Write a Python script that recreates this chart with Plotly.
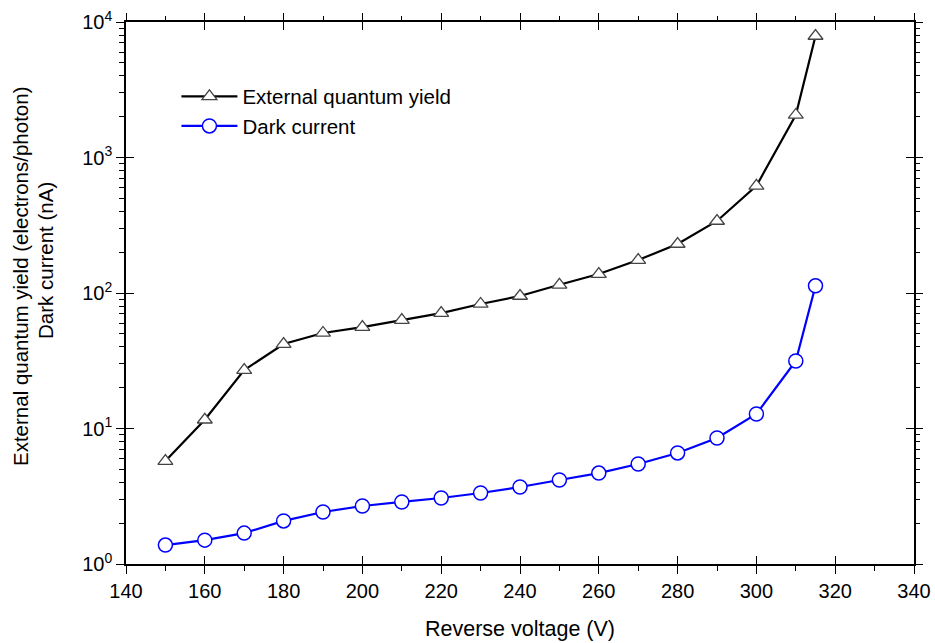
import plotly.graph_objects as go

voltage = [150, 160, 170, 180, 190, 200, 210, 220, 230, 240, 250, 260, 270, 280, 290, 300, 310, 315]
quantum_yield = [5.75, 11.6, 27, 42, 50.7, 56, 63, 71, 83, 95, 115, 138, 175, 230, 340, 617, 2060, 7880]
dark_current = [1.38, 1.50, 1.69, 2.08, 2.42, 2.68, 2.87, 3.07, 3.34, 3.70, 4.17, 4.69, 5.47, 6.60, 8.51, 12.8, 31.5, 113]

x_ticks = [140, 160, 180, 200, 220, 240, 260, 280, 300, 320, 340]
y_ticks = [1, 10, 100, 1000, 10000]
y_ticktext = ["10<sup>0</sup>", "10<sup>1</sup>", "10<sup>2</sup>", "10<sup>3</sup>", "10<sup>4</sup>"]
y_minor = [m * d for d in [1, 10, 100, 1000] for m in range(2, 10)]

FONT = "Liberation Sans, Arial, sans-serif"
xr = [140, 340]
yr = [0, 4]

fig = go.Figure()
fig.add_trace(go.Scatter(
    x=voltage, y=quantum_yield, mode="lines+markers", name="External quantum yield",
    line=dict(color="black", width=2.2),
    marker=dict(symbol="triangle-up", size=13, color="white", line=dict(color="#444444", width=1.3)),
))
fig.add_trace(go.Scatter(
    x=voltage, y=dark_current, mode="lines+markers", name="Dark current",
    line=dict(color="#0000ff", width=2.2),
    marker=dict(symbol="circle", size=14, color="white", line=dict(color="#0000ff", width=1.5)),
))
# dummy traces so the overlay axes get drawn
fig.add_trace(go.Scatter(x=[None], y=[None], xaxis="x2", yaxis="y2", showlegend=False, hoverinfo="skip"))
fig.add_trace(go.Scatter(x=[None], y=[None], xaxis="x3", yaxis="y3", showlegend=False, hoverinfo="skip"))

common_x = dict(range=xr, tickvals=x_ticks, ticklen=8, tickwidth=1.3, tickcolor="black",
                showgrid=False, zeroline=False, automargin=False)
common_y = dict(type="log", range=yr, tickvals=y_ticks, ticklen=8, tickwidth=1.3, tickcolor="black",
                showgrid=False, zeroline=False, automargin=False)
minor_x = dict(ticks="outside", ticklen=5, tickcolor="black", tickwidth=1.2, dtick=10, showgrid=False)
minor_y = dict(ticks="outside", ticklen=5, tickcolor="black", tickwidth=1.2, tickvals=y_minor, showgrid=False)

fig.update_layout(
    width=935, height=643,
    margin=dict(l=126, r=21, t=22, b=79),
    plot_bgcolor="white", paper_bgcolor="white",
    font=dict(family=FONT, size=20, color="black"),
    showlegend=True,
    legend=dict(x=0.064, y=0.8995, xanchor="left", yanchor="top", bgcolor="rgba(0,0,0,0)",
                font=dict(size=20.5), tracegroupgap=0, itemwidth=56),
    xaxis=dict(**common_x, ticks="outside", showline=True, linecolor="black", linewidth=1.5,
               mirror=True, ticktext=[str(v) for v in x_ticks], minor=minor_x,
               title=dict(text="Reverse voltage (V)", font=dict(size=21.5), standoff=20)),
    yaxis=dict(**common_y, ticks="outside", showline=True, linecolor="black", linewidth=1.5,
               mirror=True, ticktext=y_ticktext, minor=minor_y),
    xaxis2=dict(**common_x, overlaying="x", side="top", ticks="outside", showticklabels=False,
                minor=minor_x),
    yaxis2=dict(**common_y, overlaying="y", side="right", ticks="outside", showticklabels=False,
                minor=minor_y),
    xaxis3=dict(**common_x, overlaying="x", ticks="inside", mirror="ticks", showticklabels=False),
    yaxis3=dict(**common_y, overlaying="y", ticks="inside", mirror="ticks", showticklabels=False),
    annotations=[
        dict(text="External quantum yield (electrons/photon)", xref="paper", yref="paper",
             x=(20 - 126) / 788, y=(564 - 277) / 542, xanchor="center", yanchor="middle",
             textangle=-90, showarrow=False, font=dict(size=20.5)),
        dict(text="Dark current (nA)", xref="paper", yref="paper",
             x=(45 - 126) / 788, y=(564 - 261) / 542, xanchor="center", yanchor="middle",
             textangle=-90, showarrow=False, font=dict(size=20.5)),
    ],
)

fig.write_html("out.html")
